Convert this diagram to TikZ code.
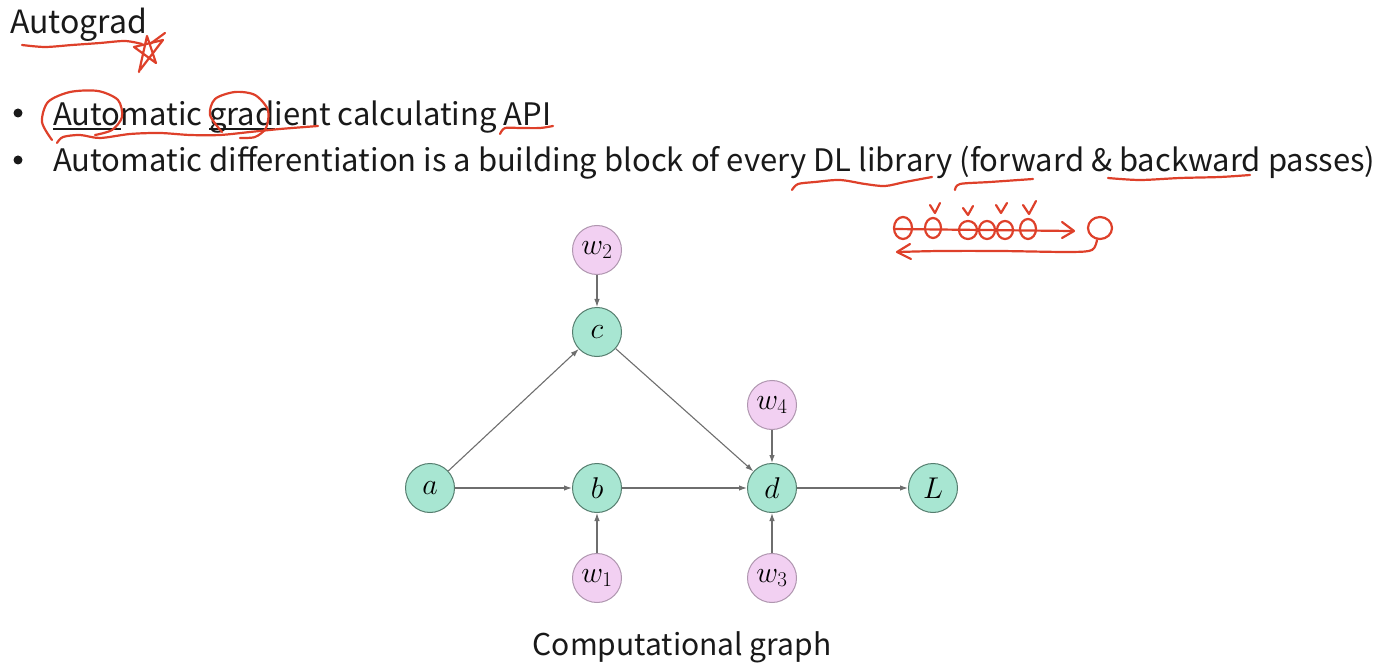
\RequirePackage{fix-cm}
\documentclass[tikz,border=0pt]{standalone}
\usepackage{fontspec}
\setmainfont{Noto Sans CJK KR}
\usetikzlibrary{arrows.meta}
\definecolor{nodegreen}{RGB}{168,230,210}
\definecolor{nodegreenline}{RGB}{85,125,110}
\definecolor{nodepink}{RGB}{242,208,242}
\definecolor{nodepinkline}{RGB}{175,150,175}
\definecolor{edgegray}{RGB}{110,110,110}
\definecolor{penred}{RGB}{222,64,42}
\definecolor{slidetext}{RGB}{25,25,25}
\newcommand\slideul[1]{\setbox0\hbox{#1}\rlap{\rule[-4pt]{\wd0}{1.6pt}}#1}

\begin{document}
\begin{tikzpicture}[x=1pt, y=-1pt,
    var/.style={circle, draw=nodegreenline, fill=nodegreen, line width=1pt,
        minimum size=49pt, inner sep=0pt, font=\fontsize{30}{30}\selectfont},
    weight/.style={var, draw=nodepinkline, fill=nodepink},
    edge/.style={draw=edgegray, line width=1.1pt, -{Latex[length=8pt,width=5.5pt]}},
    slide/.style={anchor=base west, inner sep=0pt, text=slidetext, font=\fontsize{31}{31}\selectfont},
    pen/.style={draw=penred, line width=2.2pt, line cap=round, line join=round}]
    \useasboundingbox (0,0) rectangle (1392,668);

    % Slide text
    \node[slide, font=\fontsize{32}{32}\selectfont] (title) at (10,34) {Autograd};
    \node[circle, fill=slidetext, minimum size=9pt, inner sep=0pt] (bul1) at (18,113) {};
    \node[circle, fill=slidetext, minimum size=9pt, inner sep=0pt] (bul2) at (18,160) {};
    \node[slide] (line1) at (53,126) {\slideul{Auto}matic \slideul{grad}ient calculating API};
    \node[slide] (line2) at (53,172) {Automatic differentiation is a building block of every DL library (forward \& backward passes)};

    % Graph
    \node[var] (a) at (430,488) {$a$};
    \node[var] (b) at (597,488) {$b$};
    \node[var] (c) at (597,332) {$c$};
    \node[var] (d) at (772,488) {$d$};
    \node[var] (L) at (933,488) {$L$};
    \node[weight] (w2) at (597,250) {$w_2$};
    \node[weight] (w4) at (772,405) {$w_4$};
    \node[weight] (w1) at (597,578) {$w_1$};
    \node[weight] (w3) at (772,578) {$w_3$};

    \draw[edge] (a) -- (b);
    \draw[edge] (b) -- (d);
    \draw[edge] (d) -- (L);
    \draw[edge] (a) -- (c);
    \draw[edge] (c) -- (d);
    \draw[edge] (w2) -- (c);
    \draw[edge] (w4) -- (d);
    \draw[edge] (w1) -- (b);
    \draw[edge] (w3) -- (d);

    \node[anchor=base, inner sep=0pt, text=slidetext, font=\fontsize{30}{30}\selectfont] (caption) at (682,655) {Computational graph};

    % Pen marks
    \draw[pen] plot[smooth] coordinates {(22,45) (45,47) (72,45) (100,43) (125,41) (142,44)};
    \draw[pen] (139,72) -- (147,36) -- (156,63) -- (134,47) -- (163,40) -- (140,70);
    \draw[pen] (150,44) -- (165,33);
    \draw[pen] plot[smooth] coordinates {(52,140) (42,122) (48,102) (70,92) (98,91) (118,100) (122,117) (112,130) (95,135)};
    \draw[pen] plot[smooth] coordinates {(222,132) (210,115) (215,99) (235,92) (255,95) (268,110) (266,128) (255,137) (240,138)};
    \draw[pen] plot[smooth] coordinates {(57,143) (63,137) (80,135) (100,138) (130,134) (160,133) (190,135) (220,135) (250,132) (280,129) (318,126)};
    \draw[pen] plot[smooth] coordinates {(500,134) (505,128) (520,128) (540,128) (553,126)};
    \draw[pen] plot[smooth] coordinates {(792,190) (798,184) (815,182) (840,180) (865,184) (885,186) (905,182) (932,177)};
    \draw[pen] plot[smooth] coordinates {(955,190) (960,184) (990,182) (1033,179)};
    \draw[pen] plot[smooth] coordinates {(1108,178) (1140,180) (1180,178) (1220,177) (1250,175)};
    % forward / backward doodle
    \draw[pen] (903,228) ellipse (9 and 11);
    \draw[pen] (933,228) ellipse (8 and 10);
    \draw[pen] (968,230) ellipse (9 and 9);
    \draw[pen] (987,230) ellipse (8 and 9);
    \draw[pen] (1005,230) ellipse (8 and 9);
    \draw[pen] (1028,229) ellipse (8 and 10);
    \draw[pen] (1100,228) ellipse (12 and 11);
    \draw[pen] (894,229) -- (1072,231);
    \draw[pen] (1062,222) -- (1074,231) -- (1062,238);
    \draw[pen] (930,205) -- (935,213) -- (940,203);
    \draw[pen] (963,208) -- (968,215) -- (973,206);
    \draw[pen] (996,205) -- (1001,213) -- (1007,203);
    \draw[pen] (1023,205) -- (1029,214) -- (1036,201);
    \draw[pen] plot[smooth] coordinates {(1097,240) (1092,250) (1070,252) (1000,251) (940,251) (898,252)};
    \draw[pen] (910,244) -- (897,252) -- (911,259);
\end{tikzpicture}
\end{document}
